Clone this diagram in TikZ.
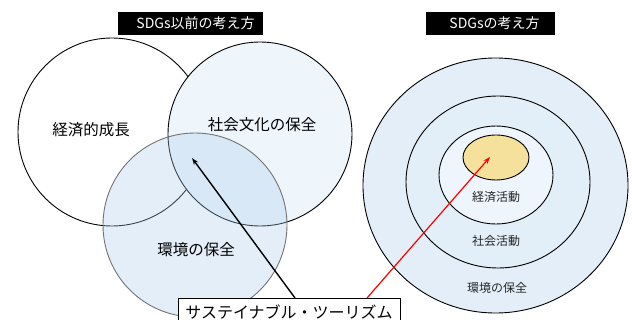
\documentclass[tikz,border=0pt]{standalone}
\usepackage{fontspec}
\setmainfont{Noto Sans CJK JP}
\usetikzlibrary{shapes.geometric,arrows.meta}
\definecolor{upblue}{HTML}{EEF6FC}
\definecolor{lowblue}{HTML}{ADCEEA}
\definecolor{ringA}{HTML}{E4EEF8}
\definecolor{ringB}{HTML}{E2EFF8}
\definecolor{ringC}{HTML}{EEF5FC}
\definecolor{yolk}{HTML}{F5E09C}
\tikzset{
  venn/.style={circle, draw=black, line width=0.9pt, inner sep=0pt},
  ring/.style={ellipse, draw=black, line width=0.9pt, inner sep=0pt},
  titlebox/.style={fill=black, text=white, font=\fontsize{14}{16}\selectfont, inner sep=0pt},
  lbl/.style={font=\fontsize{15.5}{18}\selectfont, inner sep=0pt},
  slbl/.style={font=\fontsize{12}{14}\selectfont, inner sep=0pt, text=black!85},
  tourbox/.style={draw=black, line width=0.9pt, fill=white, font=\fontsize{16}{19}\selectfont, inner sep=0pt},
  pointer/.style={line width=1.4pt, -{Stealth[length=7pt,width=5pt]}}
}
\begin{document}
\begin{tikzpicture}[x=1pt,y=-1pt]
\clip (0,0) rectangle (632,320);
\fill[white] (0,0) rectangle (632,320);
% titles
\node[titlebox, minimum width=145pt, minimum height=23pt] (t1) at (190.5,23.5) {\hspace{10pt}SDGs以前の考え方};
\node[titlebox, minimum width=129pt, minimum height=23pt] (t2) at (490.5,23.5) {\hspace{8pt}SDGsの考え方};
% left Venn
\node[venn, fill=white, minimum size=188pt] (econ) at (112,132) {};
\node[venn, fill=upblue, minimum size=184pt] (soc) at (260,134) {};
\node[venn, fill=lowblue, fill opacity=0.33, draw=black!55, minimum size=184pt] (env) at (195,225) {};
\node[lbl] (econL) at (91,130) {経済的成長};
\node[lbl] (socL) at (262,125) {社会文化の保全};
\node[lbl] (envL) at (196,250) {環境の保全};
% right concentric
\node[ring, fill=ringA, minimum width=265pt, minimum height=255pt] (o1) at (495.5,185.5) {};
\node[ring, fill=ringB, minimum width=184pt, minimum height=172pt] (o2) at (498,182) {};
\node[ring, fill=ringC, minimum width=114pt, minimum height=98pt] (o3) at (496,175) {};
\node[ring, fill=yolk, minimum width=66pt, minimum height=45pt] (o4) at (496,157.5) {};
\node[slbl] (l3) at (496,197) {経済活動};
\node[slbl] (l2) at (496,241) {社会活動};
\node[slbl] (l1) at (497,288) {環境の保全};
% tourism box and pointers
\node[tourbox, minimum width=222pt, minimum height=28pt] (tour) at (289,312) {サステイナブル・ツーリズム};
\coordinate (bs) at (295,298);
\coordinate (bt) at (192,158);
\coordinate (rs) at (367,298);
\coordinate (rt) at (490,157);
\draw[pointer, black] (bs) -- (bt);
\draw[pointer, red, line width=1.2pt] (rs) -- (rt);
\end{tikzpicture}
\end{document}
